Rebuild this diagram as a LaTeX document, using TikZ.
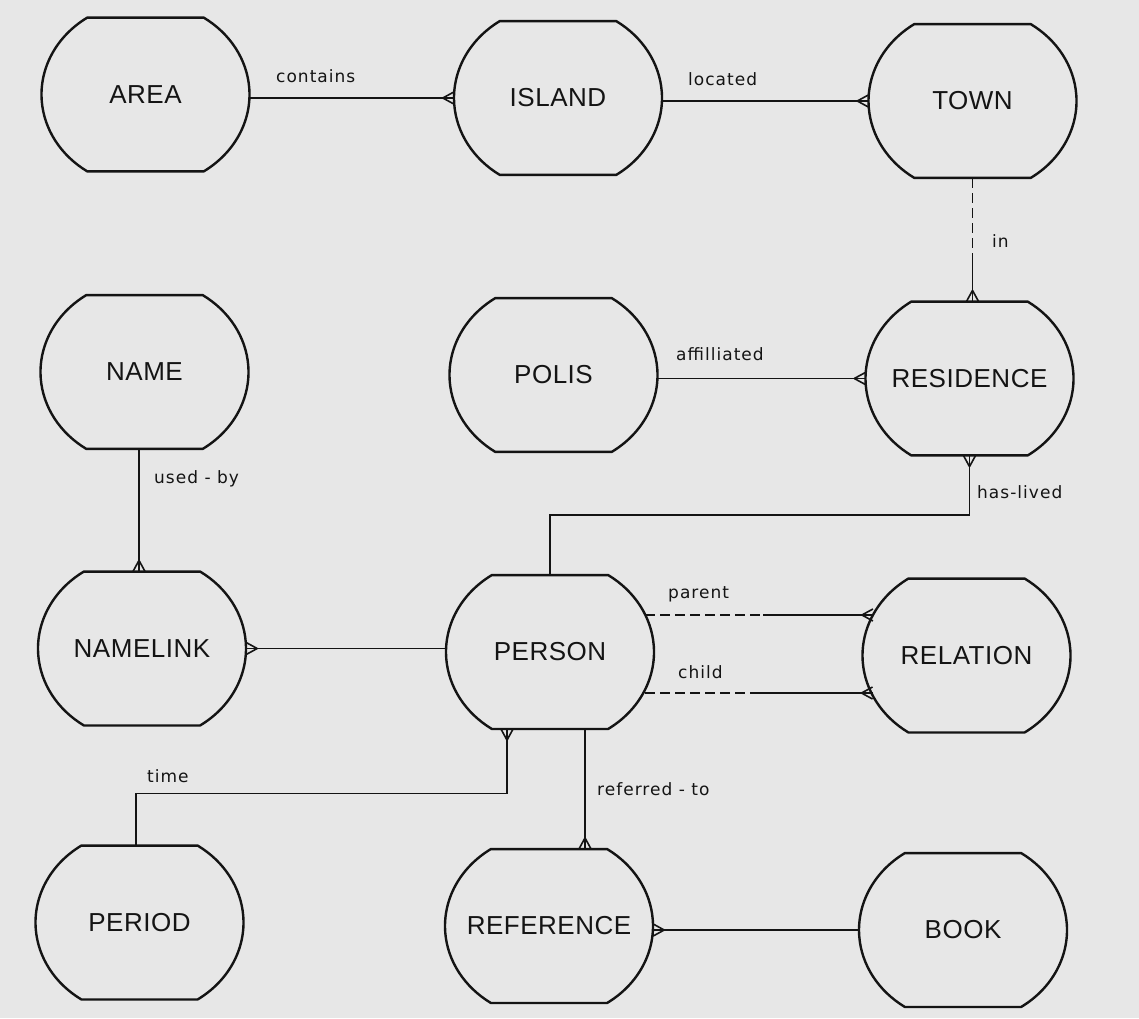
\documentclass[tikz,border=0pt]{standalone}
\usepackage{fontspec}
\setmainfont{Liberation Sans}
\newfontfamily\entfont{Liberation Sans}[LetterSpace=2]
\newfontfamily\labfont{DejaVu Sans}[LetterSpace=6]
\usetikzlibrary{calc}
\definecolor{bgcol}{RGB}{231,231,231}
\definecolor{ink}{RGB}{20,20,20}
\tikzset{
  ent/.style={rectangle, minimum width=208pt, minimum height=153.8pt, inner sep=0pt,
    font=\entfont\fontsize{26}{28}\selectfont, text=ink},
  entline/.style={draw=ink, line width=2.4pt, line join=round},
  conn/.style={draw=ink, line width=1.6pt},
  dashpart/.style={conn, dash pattern=on 10pt off 5pt},
  lbl/.style={inner sep=0pt, font=\labfont\fontsize{17}{19}\selectfont, text=ink, anchor=base west}
}
\newcommand\entity[4]{%
  \node[ent] (#1) at (#2,#3) {#4};
  \draw[entline] ([shift={(56:104pt and 92.8pt)}]#1.center)
    -- ([shift={(124:104pt and 92.8pt)}]#1.center)
    arc[start angle=124, end angle=236, x radius=104pt, y radius=92.8pt]
    -- ([shift={(304:104pt and 92.8pt)}]#1.center)
    arc[start angle=304, end angle=416, x radius=104pt, y radius=92.8pt]
    -- cycle;
}
\newcommand\crow[2]{\draw[conn, shift={(#1)}, rotate=#2] (11pt,0pt) -- (0pt,6pt) (11pt,0pt) -- (0pt,-6pt);}
\begin{document}
\begin{tikzpicture}[x=1pt,y=-1pt]
\fill[bgcol] (0,0) rectangle (1139,1018);
\useasboundingbox (0,0) rectangle (1139,1018);

% entities
\entity{AREA}{145.5}{94.5}{AREA}
\entity{ISLAND}{558}{98}{ISLAND}
\entity{TOWN}{972.5}{101}{TOWN}
\entity{NAME}{144.5}{372}{NAME}
\entity{POLIS}{553.5}{375}{POLIS}
\entity{RESIDENCE}{969.5}{378.5}{RESIDENCE}
\entity{NAMELINK}{142}{648.5}{NAMELINK}
\entity{PERSON}{550}{652}{PERSON}
\entity{RELATION}{966.5}{655.5}{RELATION}
\entity{PERIOD}{139.5}{922.5}{PERIOD}
\entity{REFERENCE}{549}{926}{REFERENCE}
\entity{BOOK}{963}{930}{BOOK}

% AREA - ISLAND
\draw[conn] (ISLAND.west -| AREA.east) -- (ISLAND.west);
\crow{ISLAND.west}{180}
% ISLAND - TOWN
\draw[conn] (TOWN.west -| ISLAND.east) -- (TOWN.west);
\crow{TOWN.west}{180}
% TOWN - RESIDENCE (in)
\coordinate (inmid) at ($(TOWN.south)+(0pt,-81pt)$);
\coordinate (inend) at (TOWN.south |- RESIDENCE.north);
\draw[dashpart] (TOWN.south) -- (inmid);
\draw[conn] (inmid) -- (inend);
\crow{inend}{90}
% POLIS - RESIDENCE
\draw[conn] (RESIDENCE.west -| POLIS.east) -- (RESIDENCE.west);
\crow{RESIDENCE.west}{180}
% RESIDENCE - PERSON (has-lived)
\coordinate (hlbend) at ($(PERSON.north)+(0pt,60pt)$);
\draw[conn] (RESIDENCE.south) |- (hlbend) -- (PERSON.north);
\crow{RESIDENCE.south}{-90}
% NAME - NAMELINK
\coordinate (ub1) at ($(NAME.south)+(-5.5pt,0pt)$);
\coordinate (ub2) at (ub1 |- NAMELINK.north);
\draw[conn] (ub1) -- (ub2);
\crow{ub2}{90}
% NAMELINK - PERSON
\draw[conn] (NAMELINK.east) -- (NAMELINK.east -| PERSON.west);
\crow{NAMELINK.east}{0}
% PERSON - RELATION parent / child
\coordinate (pa1) at ($(PERSON.center)+(95.4pt,37pt)$);
\coordinate (pa2) at ($(PERSON.center)+(213pt,37pt)$);
\coordinate (pa3) at ($(RELATION.center)+(-93.6pt,40.5pt)$);
\draw[dashpart] (pa1) -- (pa2);
\draw[conn] (pa2) -- (pa3);
\crow{pa3}{180}
\coordinate (ch1) at ($(PERSON.center)+(95.4pt,-41pt)$);
\coordinate (ch2) at ($(PERSON.center)+(210pt,-41pt)$);
\coordinate (ch3) at ($(RELATION.center)+(-94pt,-37.5pt)$);
\draw[dashpart] (ch1) -- (ch2);
\draw[conn] (ch2) -- (ch3);
\crow{ch3}{180}
% PERSON - PERIOD (time)
\coordinate (tm1) at ($(PERSON.south)+(-43pt,0pt)$);
\coordinate (tm3) at ($(PERIOD.north)+(-3.5pt,0pt)$);
\coordinate (tm2) at ($(tm3)+(0pt,52pt)$);
\draw[conn] (tm1) |- (tm2) -- (tm3);
\crow{tm1}{-90}
% PERSON - REFERENCE (referred-to)
\coordinate (rf1) at ($(PERSON.south)+(35pt,0pt)$);
\coordinate (rf2) at (rf1 |- REFERENCE.north);
\draw[conn] (rf1) -- (rf2);
\crow{rf2}{90}
% REFERENCE - BOOK
\draw[conn] (BOOK.west -| REFERENCE.east) -- (BOOK.west);
\crow{BOOK.west -| REFERENCE.east}{0}

% labels
\node[lbl] (lcontains) at (276,82) {contains};
\node[lbl] (llocated) at (688,85) {located};
\node[lbl] (lin) at (992,247) {in};
\node[lbl] (laff) at (676,360) {affilliated};
\node[lbl] (lhas) at (977,498) {has-lived};
\node[lbl] (lused) at (154,483) {used - by};
\node[lbl] (lparent) at (668,598) {parent};
\node[lbl] (lchild) at (678,678) {child};
\node[lbl] (lref) at (597,795) {referred - to};
\node[lbl] (ltime) at (147,782) {time};
\end{tikzpicture}
\end{document}
